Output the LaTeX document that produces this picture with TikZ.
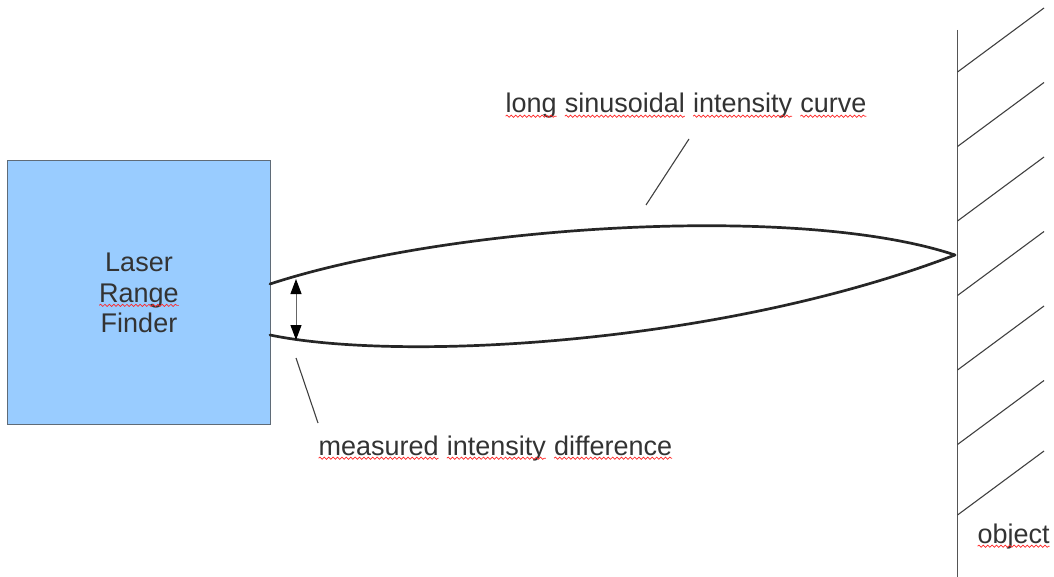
\documentclass[tikz,border=0pt]{standalone}
\usepackage{fontspec}
\setmainfont{Liberation Sans}
\usetikzlibrary{arrows.meta,decorations.pathmorphing}
\definecolor{boxblue}{HTML}{99CCFF}
\definecolor{boxedge}{HTML}{5F6B77}
\definecolor{txt}{HTML}{333333}
\definecolor{wallgray}{HTML}{555555}
\newcommand\spellwave[1]{\tikz[baseline=0pt,x=1pt,y=1pt]{\node[inner sep=0pt,outer sep=0pt,minimum width=0pt,minimum height=0pt,draw=none,fill=none,anchor=base west] (sw) at (0,0) {#1};\draw[red!85,line width=0.7pt,decorate,decoration={snake,amplitude=1.1pt,segment length=4.4pt}] ([yshift=-3.2pt]sw.base west) -- ([yshift=-3.2pt]sw.base east);}}
\tikzset{
  lbl/.style={text=txt, font=\fontsize{27}{30}\selectfont, inner sep=0pt},
  rfbox/.style={draw=boxedge, line width=1pt, fill=boxblue, minimum width=263pt, minimum height=263pt, inner sep=0pt},
  beam/.style={line width=2.7pt, black!85, line cap=round},
  leader/.style={line width=1.1pt, black!75},
  wall/.style={line width=1.3pt, wallgray},
  hatch/.style={line width=1.1pt, black!75},
  dbl/.style={line width=1pt, black!60, {Triangle[width=11pt,length=15pt,black]}-{Triangle[width=11pt,length=15pt,black]}}
}
\begin{document}
\begin{tikzpicture}[x=1pt,y=-1pt]
\useasboundingbox (0,0) rectangle (1054,577);
% laser range finder
\node[rfbox] (lrf) at (138.5,292.5) {};
\node[lbl, align=center, font=\fontsize{27}{30.5}\selectfont] (lrfText) at (139,293) {Laser\\\spellwave{Range}\\Finder};
% beams
\coordinate (up0) at (270,284);
\coordinate (lo0) at (270,335);
\coordinate (hit) at (955,255);
\draw[beam] (up0) .. controls (450,225) and (800,203) .. (hit);
\draw[beam] (lo0) .. controls (400,362) and (720,345) .. (hit);
% intensity difference arrow
\coordinate (aTop) at (296,279);
\coordinate (aBot) at (296,340);
\draw[dbl] (aTop) -- (aBot);
% wall
\coordinate (wTop) at (957.5,30);
\coordinate (wBot) at (957.5,577);
\draw[wall] (wTop) -- (wBot);
\foreach \y [count=\i] in {72,146.5,221,295.5,370,444.5,515}{
  \coordinate (h\i) at (957.5,\y);
  \coordinate (e\i) at (1044,\y-64);
  \draw[hatch] (h\i) -- (e\i);
}
% labels
\node[lbl, anchor=base west] (curveLbl) at (505,113) {\spellwave{long} \spellwave{sinusoidal} \spellwave{intensity} \spellwave{curve}};
\coordinate (cl1) at (689,139);
\coordinate (cl2) at (646,205);
\draw[leader] (cl1) -- (cl2);
\node[lbl, anchor=base west] (diffLbl) at (318,455) {\spellwave{measured} \spellwave{intensity} \spellwave{difference}};
\coordinate (dl1) at (296,358);
\coordinate (dl2) at (318,423);
\draw[leader] (dl1) -- (dl2);
\node[lbl, anchor=base west] (objLbl) at (977,543) {\spellwave{object}};
\end{tikzpicture}
\end{document}
